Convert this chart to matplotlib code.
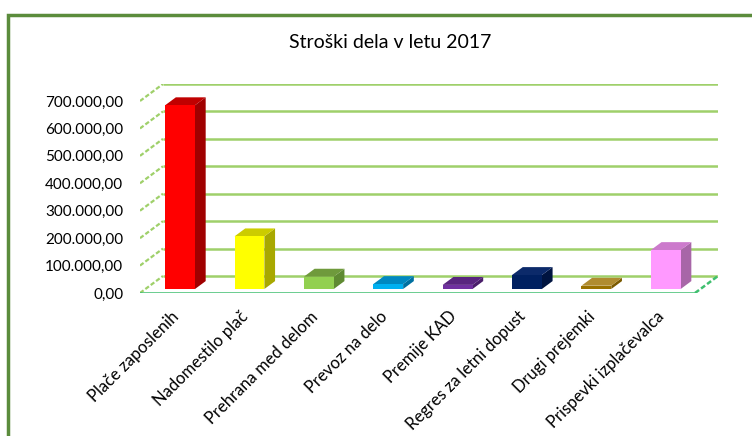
import numpy as np
import matplotlib.pyplot as plt
import matplotlib.transforms as mtransforms
from matplotlib.patches import Polygon, Rectangle
from matplotlib.ticker import FuncFormatter

plt.rcParams['font.family'] = ['Lato', 'DejaVu Sans']

title = 'Stroški dela v letu 2017'
categories = ['Plače zaposlenih', 'Nadomestilo plač', 'Prehrana med delom',
              'Prevoz na delo', 'Premije KAD', 'Regres za letni dopust',
              'Drugi prejemki', 'Prispevki izplačevalca']
values = [670000, 192000, 45000, 18000, 15000, 51000, 12000, 142000]
front_colors = ['#ff0000', '#ffff00', '#92d050', '#00b0f0',
                '#7030a0', '#002060', '#9a7200', '#ff99ff']
top_colors = ['#c00000', '#cccc00', '#6f9a3c', '#0088c0',
              '#59257f', '#0c2a6a', '#b08c30', '#cc7acc']
side_colors = ['#a00000', '#a8a800', '#5f8a32', '#0070a0',
               '#4a1e6a', '#001440', '#7a5a00', '#a866a8']
yticks = np.arange(0, 800000, 100000)

# pseudo-3d geometry (data units)
depth_x = 0.331
depth_y = 62000
f0, f1 = 0.235, 0.70
bar_w = 0.43
grid_col = '#9fd06a'

fig = plt.figure(figsize=(7.52, 4.36), dpi=100)
W, H = 752, 436
ax = fig.add_axes([140 / W, (H - 293) / H, 578 / W, 209 / H])
ax.set_xlim(-0.5, len(categories) - 0.5 + depth_x)
ax.set_ylim(0, yticks[-1] + depth_y)
for s in ax.spines.values():
    s.set_visible(False)

x_left = -0.5
x_right = len(categories) - 0.5

# walls / gridlines
for v in yticks:
    ax.plot([x_left + depth_x, x_right + depth_x], [v + depth_y, v + depth_y],
            color=grid_col, lw=1.8, zorder=1, solid_capstyle='butt')
    ax.plot([x_left, x_left + depth_x], [v, v + depth_y],
            color=grid_col, lw=1.6, ls=(0, (2, 1)), zorder=1)
ax.plot([x_left, x_right], [0, 0], color='#3fbf6f', lw=1.8, zorder=1)
ax.plot([x_right, x_right + depth_x], [0, depth_y],
        color='#3fbf6f', lw=1.8, ls=(0, (2, 1)), zorder=1)

# bars
ddx = (f1 - f0) * depth_x
ddy = (f1 - f0) * depth_y
for i, v in enumerate(values):
    x0 = i + f0 * depth_x - bar_w / 2
    x1 = x0 + bar_w
    y0 = f0 * depth_y
    y1 = y0 + v
    ax.bar(x0, v, width=bar_w, bottom=y0, align='edge',
           color=front_colors[i], zorder=3)
    ax.add_patch(Polygon([(x1, y0), (x1, y1), (x1 + ddx, y1 + ddy),
                          (x1 + ddx, y0 + ddy)], closed=True,
                         facecolor=side_colors[i], edgecolor='none', zorder=2))
    ax.add_patch(Polygon([(x0, y1), (x1, y1), (x1 + ddx, y1 + ddy),
                          (x0 + ddx, y1 + ddy)], closed=True,
                         facecolor=top_colors[i], edgecolor='none', zorder=2))

ax.set_yticks(yticks)
ax.yaxis.set_major_formatter(FuncFormatter(
    lambda v, p: f'{v:,.2f}'.replace(',', ' ').replace('.', ',').replace(' ', '.')))
ax.set_xticks(range(len(categories)))
ax.set_xticklabels(categories, rotation=45, ha='right', rotation_mode='anchor')
ax.tick_params(axis='both', length=0, colors='#000000')
ax.tick_params(axis='y', pad=12, labelsize=11)
ax.tick_params(axis='x', pad=11, labelsize=12)
shift = mtransforms.ScaledTranslation(-4 / 100, 0, fig.dpi_scale_trans)
for lbl in ax.get_xticklabels():
    lbl.set_transform(lbl.get_transform() + shift)

fig.text(390 / W, 1 - 43 / H, title, ha='center', va='center', fontsize=14)

# chart border
fig.patches.append(Rectangle((8 / W, -0.1), 1.2, 1 - 15 / H + 0.1,
                             transform=fig.transFigure, fill=False,
                             edgecolor='#5b8c3c', lw=2.5))

fig.savefig('out.png', dpi=100)
